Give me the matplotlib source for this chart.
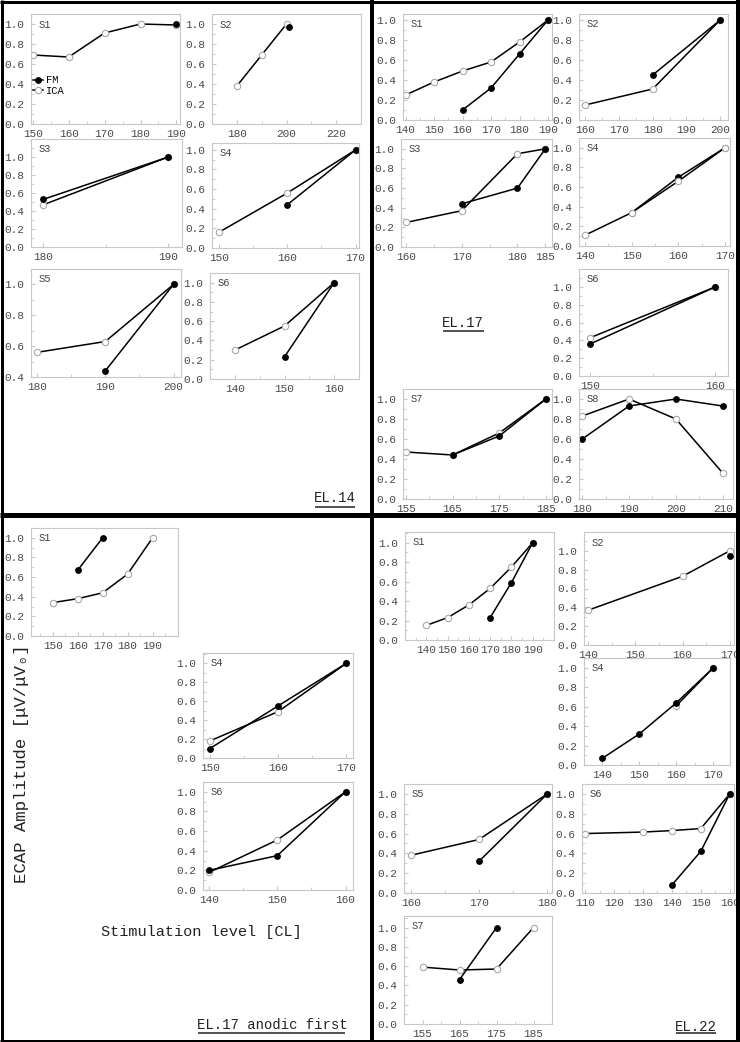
import matplotlib
matplotlib.use('Agg')
import matplotlib.pyplot as plt
from matplotlib.lines import Line2D
from matplotlib.ticker import AutoMinorLocator

plt.rcParams['font.family'] = ['Liberation Mono', 'DejaVu Sans Mono']

# ---- data: stimulation level [CL] vs normalised ECAP amplitude ----
# EL.14
el14_s1_ica_x = [150, 160, 170, 180, 190]
el14_s1_ica_y = [0.69, 0.67, 0.91, 1.0, 0.99]
el14_s1_fm_x = [190]
el14_s1_fm_y = [1.0]
el14_s2_ica_x = [180, 190, 200]
el14_s2_ica_y = [0.38, 0.69, 1.0]
el14_s2_fm_x = [201]
el14_s2_fm_y = [0.97]
el14_s3_ica_x = [180, 190]
el14_s3_ica_y = [0.47, 1.0]
el14_s3_fm_x = [180, 190]
el14_s3_fm_y = [0.53, 1.0]
el14_s4_ica_x = [150, 160, 170]
el14_s4_ica_y = [0.16, 0.56, 1.0]
el14_s4_fm_x = [160, 170]
el14_s4_fm_y = [0.44, 1.0]
el14_s5_ica_x = [180, 190, 200]
el14_s5_ica_y = [0.56, 0.63, 1.0]
el14_s5_fm_x = [190, 200]
el14_s5_fm_y = [0.44, 1.0]
el14_s6_ica_x = [140, 150, 160]
el14_s6_ica_y = [0.30, 0.55, 1.0]
el14_s6_fm_x = [150, 160]
el14_s6_fm_y = [0.23, 1.0]

# EL.17
el17_s1_ica_x = [140, 150, 160, 170, 180, 190]
el17_s1_ica_y = [0.25, 0.38, 0.49, 0.58, 0.78, 1.0]
el17_s1_fm_x = [160, 170, 180, 190]
el17_s1_fm_y = [0.10, 0.32, 0.66, 1.0]
el17_s2_ica_x = [160, 180, 200]
el17_s2_ica_y = [0.15, 0.31, 1.0]
el17_s2_fm_x = [180, 200]
el17_s2_fm_y = [0.45, 1.0]
el17_s3_ica_x = [160, 170, 180, 185]
el17_s3_ica_y = [0.25, 0.37, 0.95, 1.0]
el17_s3_fm_x = [170, 180, 185]
el17_s3_fm_y = [0.44, 0.60, 1.0]
el17_s4_ica_x = [140, 150, 160, 170]
el17_s4_ica_y = [0.11, 0.34, 0.66, 1.0]
el17_s4_fm_x = [150, 160, 170]
el17_s4_fm_y = [0.34, 0.70, 1.0]
el17_s6_ica_x = [150, 160]
el17_s6_ica_y = [0.43, 1.0]
el17_s6_fm_x = [150, 160]
el17_s6_fm_y = [0.36, 1.0]
el17_s7_ica_x = [155, 165, 175, 185]
el17_s7_ica_y = [0.47, 0.44, 0.66, 1.0]
el17_s7_fm_x = [165, 175, 185]
el17_s7_fm_y = [0.44, 0.63, 1.0]
el17_s8_ica_x = [180, 190, 200, 210]
el17_s8_ica_y = [0.83, 1.0, 0.80, 0.26]
el17_s8_fm_x = [180, 190, 200, 210]
el17_s8_fm_y = [0.60, 0.93, 1.0, 0.93]

# EL.17 anodic first
an_s1_ica_x = [150, 160, 170, 180, 190]
an_s1_ica_y = [0.34, 0.38, 0.44, 0.63, 1.0]
an_s1_fm_x = [160, 170]
an_s1_fm_y = [0.67, 1.0]
an_s4_ica_x = [150, 160, 170]
an_s4_ica_y = [0.18, 0.49, 1.0]
an_s4_fm_x = [150, 160, 170]
an_s4_fm_y = [0.10, 0.55, 1.0]
an_s6_ica_x = [140, 150, 160]
an_s6_ica_y = [0.18, 0.51, 1.0]
an_s6_fm_x = [140, 150, 160]
an_s6_fm_y = [0.20, 0.35, 1.0]

# EL.22
el22_s1_ica_x = [140, 150, 160, 170, 180, 190]
el22_s1_ica_y = [0.15, 0.23, 0.36, 0.53, 0.75, 1.0]
el22_s1_fm_x = [170, 180, 190]
el22_s1_fm_y = [0.23, 0.59, 1.0]
el22_s2_ica_x = [140, 160, 170]
el22_s2_ica_y = [0.37, 0.73, 1.0]
el22_s2_fm_x = [170]
el22_s2_fm_y = [0.94]
el22_s4_ica_x = [160, 170]
el22_s4_ica_y = [0.61, 1.0]
el22_s4_fm_x = [140, 150, 160, 170]
el22_s4_fm_y = [0.07, 0.32, 0.64, 1.0]
el22_s5_ica_x = [160, 170, 180]
el22_s5_ica_y = [0.38, 0.54, 1.0]
el22_s5_fm_x = [170, 180]
el22_s5_fm_y = [0.32, 1.0]
el22_s6_ica_x = [110, 130, 140, 150, 160]
el22_s6_ica_y = [0.60, 0.615, 0.63, 0.65, 1.0]
el22_s6_fm_x = [140, 150, 160]
el22_s6_fm_y = [0.08, 0.42, 1.0]
el22_s7_ica_x = [155, 165, 175, 185]
el22_s7_ica_y = [0.59, 0.56, 0.57, 1.0]
el22_s7_fm_x = [165, 175]
el22_s7_fm_y = [0.46, 1.0]

# ---- layout (pixels of a 740x1042 canvas) ----
W, H = 740, 1042
fig = plt.figure(figsize=(7.4, 10.42), dpi=100)
fig.patch.set_facecolor('white')

yt0 = [0, 0.2, 0.4, 0.6, 0.8, 1.0]

# (label, box l,t,r,b, xlim, ylim, xticks, yticks, ica, fm, ica_on_top)
panels = [
    ('S1', (31, 14, 180, 124), (149.5, 191), (0, 1.1), [150, 160, 170, 180, 190], yt0,
     (el14_s1_ica_x, el14_s1_ica_y), (el14_s1_fm_x, el14_s1_fm_y), False),
    ('S2', (212, 14, 361, 124), (170, 230), (0, 1.1), [180, 200, 220], yt0,
     (el14_s2_ica_x, el14_s2_ica_y), (el14_s2_fm_x, el14_s2_fm_y), False),
    ('S3', (31, 139, 182, 247), (179, 191.1), (0, 1.2), [180, 190], yt0,
     (el14_s3_ica_x, el14_s3_ica_y), (el14_s3_fm_x, el14_s3_fm_y), False),
    ('S4', (212, 143, 359, 248), (149, 170.5), (0, 1.07), [150, 160, 170], yt0,
     (el14_s4_ica_x, el14_s4_ica_y), (el14_s4_fm_x, el14_s4_fm_y), False),
    ('S5', (31, 269, 181, 377), (179.1, 201.1), (0.4, 1.1), [180, 190, 200], [0.4, 0.6, 0.8, 1.0],
     (el14_s5_ica_x, el14_s5_ica_y), (el14_s5_fm_x, el14_s5_fm_y), False),
    ('S6', (210, 273, 359, 379), (135, 165), (0, 1.1), [140, 150, 160], yt0,
     (el14_s6_ica_x, el14_s6_ica_y), (el14_s6_fm_x, el14_s6_fm_y), False),

    ('S1', (403, 14, 552, 120), (139.1, 191.4), (0, 1.06), [140, 150, 160, 170, 180, 190], yt0,
     (el17_s1_ica_x, el17_s1_ica_y), (el17_s1_fm_x, el17_s1_fm_y), False),
    ('S2', (579, 14, 728, 120), (158.2, 202.3), (0, 1.06), [160, 170, 180, 190, 200], yt0,
     (el17_s2_ica_x, el17_s2_ica_y), (el17_s2_fm_x, el17_s2_fm_y), False),
    ('S3', (401, 139, 552, 247), (159.1, 186.2), (0, 1.1), [160, 170, 180, 185], yt0,
     (el17_s3_ica_x, el17_s3_ica_y), (el17_s3_fm_x, el17_s3_fm_y), False),
    ('S4', (579, 138, 730, 246), (138.7, 171.1), (0, 1.1), [140, 150, 160, 170], yt0,
     (el17_s4_ica_x, el17_s4_ica_y), (el17_s4_fm_x, el17_s4_fm_y), True),
    ('S6', (579, 269, 728, 376), (149.1, 161), (0, 1.2), [150, 160], yt0,
     (el17_s6_ica_x, el17_s6_ica_y), (el17_s6_fm_x, el17_s6_fm_y), False),
    ('S7', (403, 389, 552, 499), (154.4, 186.3), (0, 1.1), [155, 165, 175, 185], yt0,
     (el17_s7_ica_x, el17_s7_ica_y), (el17_s7_fm_x, el17_s7_fm_y), False),
    ('S8', (579, 389, 733, 499), (179.3, 212.2), (0, 1.1), [180, 190, 200, 210], yt0,
     (el17_s8_ica_x, el17_s8_ica_y), (el17_s8_fm_x, el17_s8_fm_y), False),

    ('S1', (31, 528, 178, 636), (141.3, 200.2), (0, 1.1), [150, 160, 170, 180, 190], yt0,
     (an_s1_ica_x, an_s1_ica_y), (an_s1_fm_x, an_s1_fm_y), False),
    ('S4', (203, 653, 353, 758), (149, 171), (0, 1.11), [150, 160, 170], yt0,
     (an_s4_ica_x, an_s4_ica_y), (an_s4_fm_x, an_s4_fm_y), False),
    ('S6', (203, 782, 353, 890), (139.1, 161.1), (0, 1.1), [140, 150, 160], yt0,
     (an_s6_ica_x, an_s6_ica_y), (an_s6_fm_x, an_s6_fm_y), False),

    ('S1', (405, 532, 554, 640), (130, 200), (0, 1.11), [140, 150, 160, 170, 180, 190], yt0,
     (el22_s1_ica_x, el22_s1_ica_y), (el22_s1_fm_x, el22_s1_fm_y), False),
    ('S2', (584, 532, 734, 645), (139.1, 170.9), (0, 1.2), [140, 150, 160, 170], yt0,
     (el22_s2_ica_x, el22_s2_ica_y), (el22_s2_fm_x, el22_s2_fm_y), False),
    ('S4', (584, 658, 730, 765), (135, 174.5), (0, 1.1), [140, 150, 160, 170], yt0,
     (el22_s4_ica_x, el22_s4_ica_y), (el22_s4_fm_x, el22_s4_fm_y), False),
    ('S5', (404, 784, 552, 893), (159, 180.7), (0, 1.1), [160, 170, 180], yt0,
     (el22_s5_ica_x, el22_s5_ica_y), (el22_s5_fm_x, el22_s5_fm_y), False),
    ('S6', (582, 784, 734, 893), (108.9, 161.5), (0, 1.1), [110, 120, 130, 140, 150, 160], yt0,
     (el22_s6_ica_x, el22_s6_ica_y), (el22_s6_fm_x, el22_s6_fm_y), False),
    ('S7', (404, 916, 552, 1024), (150, 190), (0, 1.12), [155, 165, 175, 185], yt0,
     (el22_s7_ica_x, el22_s7_ica_y), (el22_s7_fm_x, el22_s7_fm_y), False),
]

ica_style = dict(color='black', lw=1.1, marker='o', ms=4.6, mfc='white', mec='#a8a8a8', mew=0.8)
fm_style = dict(color='black', lw=1.1, marker='o', ms=3.9, mfc='black', mec='black')

for i, (lab, box, xlim, ylim, xt, yt, ica, fm, ica_top) in enumerate(panels):
    l, t, r, b = box
    ax = fig.add_axes([l / W, 1 - b / H, (r - l) / W, (b - t) / H])
    if ica_top:
        ax.plot(fm[0], fm[1], **fm_style)
        ax.plot(ica[0], ica[1], **ica_style)
    else:
        ax.plot(ica[0], ica[1], **ica_style)
        ax.plot(fm[0], fm[1], **fm_style)
    ax.set_xlim(xlim)
    ax.set_ylim(ylim)
    ax.set_xticks(xt)
    ax.set_yticks(yt)
    ax.set_yticklabels(['%.1f' % v for v in yt])
    ax.xaxis.set_minor_locator(AutoMinorLocator(2))
    ax.yaxis.set_minor_locator(AutoMinorLocator(2))
    for sp in ax.spines.values():
        sp.set_color('#c8c8c8')
        sp.set_linewidth(0.8)
    ax.tick_params(which='both', direction='in', color='#c8c8c8', labelsize=8,
                   labelcolor='#4a4a4a')
    ax.tick_params(which='major', length=3, pad=3.5)
    ax.tick_params(which='minor', length=2)
    ax.tick_params(axis='y', pad=5)
    ax.text(0.05, 0.95, lab, transform=ax.transAxes, ha='left', va='top',
            fontsize=7.5, color='#444444')
    if i == 0:
        hs = [Line2D([], [], **fm_style), Line2D([], [], **ica_style)]
        ax.legend(hs, ['FM', 'ICA'], loc='center left', bbox_to_anchor=(-0.03, 0.35),
                  frameon=False, handlelength=1.0, handletextpad=0.3,
                  labelspacing=0.05, fontsize=7.5, borderpad=0.1)


def fx(x):
    return x / W


def fy(y):
    return 1 - y / H


def hline(x0, x1, y, lw, color='black'):
    fig.add_artist(Line2D([fx(x0), fx(x1)], [fy(y), fy(y)], transform=fig.transFigure,
                          color=color, lw=lw, solid_capstyle='butt', zorder=10))


def vline(x, y0, y1, lw, color='black'):
    fig.add_artist(Line2D([fx(x), fx(x)], [fy(y0), fy(y1)], transform=fig.transFigure,
                          color=color, lw=lw, solid_capstyle='butt', zorder=10))


# quadrant frames
px = 0.72
hline(0, W, 1.5, 3 * px)
hline(0, W, 1040.5, 3 * px)
vline(1.5, 0, H, 3 * px)
vline(738, 0, H, 4 * px)
vline(371.5, 0, H, 4 * px)
hline(0, W, 515, 5 * px)

# panel captions
for txt, cx, cy, ux0, ux1, uy in [('EL.14', 335, 498, 315, 355, 507),
                                  ('EL.17', 463, 323, 443, 484, 331),
                                  ('EL.17 anodic first', 272, 1025, 198, 345, 1033),
                                  ('EL.22', 696, 1027, 676, 716, 1033)]:
    fig.text(fx(cx), fy(cy), txt, ha='center', va='center', fontsize=10, color='#222222')
    hline(ux0, ux1, uy, 1.3, color='#444444')

fig.text(fx(201), fy(932), 'Stimulation level [CL]', ha='center', va='center',
         fontsize=11, color='#222222')
fig.text(fx(22), fy(764), 'ECAP Amplitude [μV/μV₀]', ha='center', va='center',
         rotation=90, fontsize=12.5, color='#222222')

fig.savefig('out.png', dpi=100, facecolor='white')
